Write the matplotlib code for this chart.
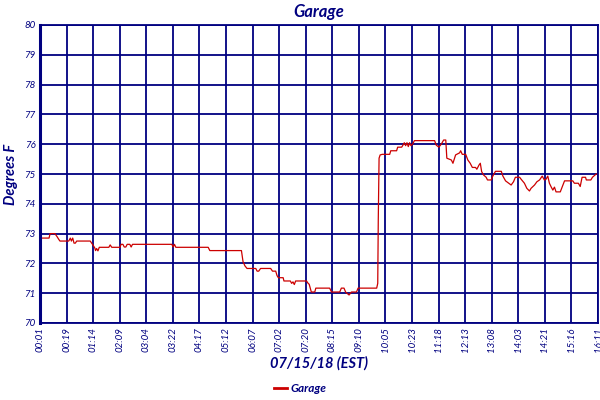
import matplotlib
matplotlib.use("Agg")
import matplotlib.pyplot as plt

# x tick labels (one per grid line, sample-index axis)
tick_labels = ["00:01", "00:19", "01:14", "02:09", "03:04", "03:22", "04:17",
               "05:12", "06:07", "07:02", "07:20", "08:15", "09:10", "10:05",
               "10:23", "11:18", "12:13", "13:08", "14:03", "14:21", "15:16",
               "16:11"]

# readings: position along the axis (in label steps) and temperature
pos = [0.00, 0.34, 0.38, 0.56, 0.64, 0.71, 0.75, 1.08, 1.14, 1.18, 1.23, 1.28,
       1.33, 1.38, 1.89, 1.93, 1.99, 2.06, 2.09, 2.13, 2.18, 2.23, 2.59, 2.64,
       2.70, 3.01, 3.05, 3.12, 3.17, 3.23, 3.28, 3.38, 3.43, 3.48, 4.96, 5.01,
       5.06, 5.11, 6.33, 6.39, 7.58, 7.64, 7.71, 7.79, 8.12, 8.17, 8.23, 8.30,
       8.68, 8.75, 8.87, 8.92, 8.97, 9.15, 9.18, 9.42, 9.47, 9.52, 9.57, 9.62,
       10.03, 10.09, 10.13, 10.21, 10.34, 10.38, 10.90, 10.97, 11.28, 11.34,
       11.44, 11.50, 11.63, 11.72, 11.91, 11.97, 12.67, 12.71, 12.73, 12.76,
       12.80, 12.88, 13.16, 13.20, 13.42, 13.46, 13.61, 13.66, 13.71, 13.76,
       13.81, 13.86, 13.91, 13.96, 14.02, 14.09, 14.85, 14.91, 15.01, 15.10,
       15.19, 15.27, 15.31, 15.48, 15.54, 15.64, 15.79, 15.83, 15.89, 16.02,
       16.10, 16.19, 16.27, 16.39, 16.44, 16.52, 16.57, 16.62, 16.69, 16.79,
       16.84, 16.98, 17.04, 17.14, 17.36, 17.42, 17.52, 17.64, 17.73, 17.82,
       17.89, 18.05, 18.11, 18.23, 18.32, 18.42, 18.48, 18.61, 18.70, 18.80,
       18.90, 18.98, 19.04, 19.11, 19.17, 19.24, 19.30, 19.36, 19.42, 19.58,
       19.65, 19.74, 20.05, 20.11, 20.26, 20.33, 20.40, 20.53, 20.56, 20.73,
       20.79, 20.93, 20.98]
temps = [72.85, 72.85, 73.0, 73.0, 72.9, 72.8, 72.75, 72.75, 72.85, 72.75,
         72.85, 72.68, 72.68, 72.75, 72.75, 72.7, 72.62, 72.52, 72.43, 72.5,
         72.42, 72.54, 72.54, 72.62, 72.54, 72.54, 72.64, 72.64, 72.55, 72.55,
         72.64, 72.64, 72.55, 72.64, 72.64, 72.55, 72.64, 72.54, 72.54, 72.43,
         72.43, 72.06, 71.92, 71.83, 71.83, 71.74, 71.74, 71.83, 71.83, 71.74,
         71.74, 71.59, 71.52, 71.52, 71.41, 71.41, 71.33, 71.38, 71.29, 71.41,
         71.41, 71.33, 71.3, 71.04, 71.04, 71.17, 71.17, 71.04, 71.04, 71.17,
         71.17, 71.04, 70.94, 71.04, 71.04, 71.17, 71.17, 71.33, 73.46, 75.53,
         75.64, 75.66, 75.66, 75.78, 75.78, 75.9, 75.9, 75.97, 76.05, 75.95,
         76.05, 75.92, 76.05, 75.95, 76.0, 76.12, 76.12, 75.97, 75.9, 76.0,
         76.14, 76.14, 75.53, 75.47, 75.36, 75.64, 75.71, 75.78, 75.66, 75.66,
         75.47, 75.36, 75.22, 75.22, 75.16, 75.3, 75.36, 75.08, 74.97, 74.89,
         74.8, 74.8, 74.93, 75.09, 75.09, 74.93, 74.77, 74.69, 74.63, 74.74,
         74.89, 74.89, 74.82, 74.69, 74.52, 74.43, 74.52, 74.63, 74.74, 74.8,
         74.93, 74.8, 74.82, 74.93, 74.69, 74.56, 74.46, 74.56, 74.4, 74.4,
         74.56, 74.77, 74.77, 74.69, 74.69, 74.58, 74.89, 74.89, 74.8, 74.8,
         74.89, 75.0, 75.0]

navy = "#000080"
red = "#cc0000"
font = "Lato"

fig = plt.figure(figsize=(6, 4), dpi=100)
ax = fig.add_axes([0.0667, 0.1925, 0.93, 0.745])

line, = ax.plot(pos, temps, color=red, linewidth=0.9, label="Garage")

ax.set_xlim(0, len(tick_labels) - 1)
ax.set_ylim(70, 80)
ax.set_xticks(range(len(tick_labels)))
ax.set_xticklabels(tick_labels, rotation=90, fontsize=7, style="italic",
                   color=navy, family=font)
ax.set_yticks(range(70, 81))
ax.set_yticklabels([str(v) for v in range(70, 81)], fontsize=7,
                   style="italic", color=navy, family=font)
ax.tick_params(length=0, pad=3)
ax.grid(True, color=navy, linewidth=1.3)
ax.set_axisbelow(True)
for side in ["top", "bottom", "right"]:
    ax.spines[side].set_color(navy)
    ax.spines[side].set_linewidth(1.3)
ax.spines["left"].set_color(navy)
ax.spines["left"].set_linewidth(2.2)

ax.set_title("Garage", fontsize=12, fontweight="bold", style="italic",
             color=navy, family=font, pad=6)
ax.set_ylabel("Degrees F", fontsize=10.5, fontweight="bold", style="italic",
              color=navy, family=font, labelpad=5)
ax.set_xlabel("07/15/18 (EST)", fontsize=10.5, fontweight="bold",
              style="italic", color=navy, family=font, labelpad=3)

leg = fig.legend(handles=[line], loc="lower center", bbox_to_anchor=(0.5, -0.012),
                 frameon=False, handlelength=1.1, handletextpad=0.3,
                 prop={"family": font, "style": "italic", "weight": "bold",
                       "size": 8.5})
for t in leg.get_texts():
    t.set_color(navy)
leg.get_lines()[0].set_linewidth(2)

fig.savefig("out.png", dpi=100)
